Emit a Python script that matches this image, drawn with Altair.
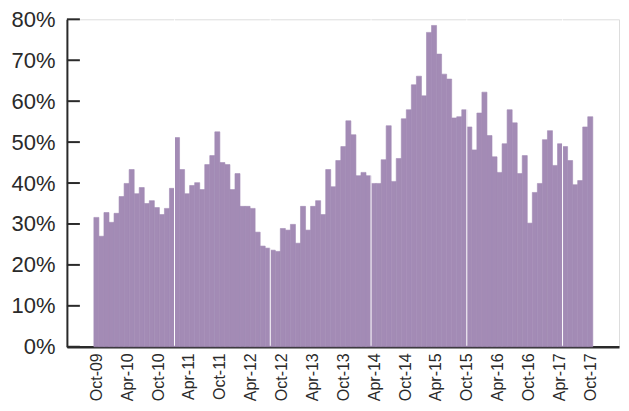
import json
import altair as alt
import pandas as pd

# monthly share values (%), 99 bars
values = [
    31.6, 27.0, 32.8, 30.4, 32.6, 36.7, 39.9, 43.3, 37.4, 38.9,
    35.0, 35.7, 34.0, 32.3, 33.8, 38.7, 51.1, 43.3, 37.4, 39.4,
    40.1, 38.4, 44.5, 46.7, 52.5, 45.0, 44.5, 38.4, 42.3, 34.3,
    34.3, 33.8, 28.0, 24.6, 24.1, 23.6, 23.3, 28.9, 28.5, 29.9,
    25.3, 34.3, 28.5, 34.3, 35.7, 32.3, 43.3, 39.1, 45.5, 48.9,
    55.2, 51.8, 41.8, 42.6, 41.8, 39.9, 39.9, 45.7, 54.0, 40.4,
    46.0, 55.7, 57.9, 64.0, 66.1, 61.3, 76.8, 78.5, 71.5, 66.6,
    65.4, 55.9, 56.2, 57.9, 53.7, 48.1, 57.1, 62.2, 51.6, 46.4,
    42.6, 49.6, 57.9, 54.7, 42.3, 46.7, 30.2, 37.7, 39.9, 50.6,
    52.8, 44.3, 49.6, 48.9, 45.5, 39.6, 40.6, 53.7, 56.2,
]

x_labels = [
    "Oct-09", "Apr-10", "Oct-10", "Apr-11", "Oct-11", "Apr-12", "Oct-12",
    "Apr-13", "Oct-13", "Apr-14", "Oct-14", "Apr-15", "Oct-15", "Apr-16",
    "Oct-16", "Apr-17", "Oct-17",
]

y_ticks = [0, 10, 20, 30, 40, 50, 60, 70, 80]

# thin white separators seen in the reference (bar boundaries)
separators = [16, 35, 55, 74, 93]

FONT = "Liberation Sans"
BAR = "#A38BB5"
INK = "#2a2a2a"

n = len(values)
df = pd.DataFrame({"i": list(range(n)), "v": values})
df["i2"] = df["i"] + 1

step = (n - 1) / (len(x_labels) - 1)
label_pos = [0.5 + k * step for k in range(len(x_labels))]
label_expr = f"{json.dumps(x_labels)}[round((datum.value - 0.5) / {step})]"

xscale = alt.Scale(domain=[-5.35, n + 5.2], nice=False, zero=False)
yscale = alt.Scale(domain=[0, 80], nice=False)

xaxis = alt.Axis(
    values=label_pos, labelExpr=label_expr, labelAngle=-90,
    labelFont=FONT, labelFontSize=16, labelColor=INK, labelPadding=6,
    ticks=False, grid=False, domainColor=INK, domainWidth=2.5,
    title=None, labelOverlap=False, labelFlush=False)
yaxis = alt.Axis(
    values=y_ticks, labelExpr="datum.value + '%'",
    labelFont=FONT, labelFontSize=22, labelColor=INK, labelPadding=12,
    ticks=False, grid=False, domainColor=INK, domainWidth=2,
    title=None)

bars = alt.Chart(df).mark_bar(color=BAR, stroke=BAR, strokeWidth=0.6).encode(
    x=alt.X("i:Q", scale=xscale, axis=xaxis),
    x2="i2:Q",
    y=alt.Y("v:Q", scale=yscale, axis=yaxis),
    y2=alt.datum(0),
)

seps = alt.Chart(pd.DataFrame({"s": separators})).mark_rule(
    color="white", strokeWidth=1
).encode(
    x=alt.X("s:Q", scale=xscale, axis=xaxis),
    y=alt.value(0),
    y2=alt.value(327),
)

ticks = alt.Chart(pd.DataFrame({"t": y_ticks})).mark_rule(
    color=INK, strokeWidth=2
).encode(
    y=alt.Y("t:Q", scale=yscale, axis=yaxis),
    x=alt.value(0),
    x2=alt.value(13),
)

chart = alt.layer(bars, seps, ticks).properties(
    width=553,
    height=328,
    autosize=alt.AutoSizeParams(type="none"),
    padding={"left": 59, "top": 11, "right": 2, "bottom": 55},
).configure_view(stroke=None).configure(background="white")

chart.save("out.html", embed_options={"renderer": "svg", "actions": False})
